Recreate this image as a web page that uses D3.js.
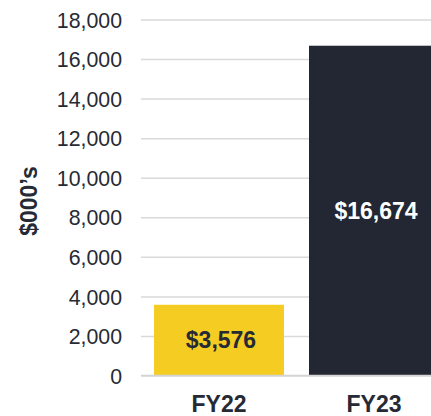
<!DOCTYPE html>
<html>
<head>
<meta charset="utf-8">
<script src="https://cdn.jsdelivr.net/npm/d3@7"></script>
<style>
  html, body { margin: 0; padding: 0; background: #fff; overflow: hidden; }
  svg { display: block; }
  text { font-family: "Liberation Sans", Arial, Helvetica, sans-serif; }
</style>
</head>
<body>
<svg id="chart" width="431" height="416"></svg>
<script>
// Revenue by fiscal year, in thousands of dollars
const categories = ["FY22", "FY23"];
const values = [3576, 16674];
const barLabels = ["$3,576", "$16,674"];
const tickValues = [0, 2000, 4000, 6000, 8000, 10000, 12000, 14000, 16000, 18000];
const barColors = ["#F5CD22", "#232733"];
const labelColors = ["#262a35", "#ffffff"];
const yTitle = "$000\u2019s";

const svg = d3.select("#chart");
const textColor = "#262a35";

const y = d3.scaleLinear().domain([0, 18000]).range([375.5, 19.5]);
const x = d3.scaleBand()
  .domain(categories)
  .range([141, 452])
  .paddingInner(25 / 155)
  .paddingOuter(13 / 155);

// Gridlines with tick labels
const yAxis = d3.axisLeft(y)
  .tickValues(tickValues)
  .tickSize(-(452 - 141))
  .tickPadding(19)
  .tickFormat(d3.format(","));

const gy = svg.append("g")
  .attr("transform", "translate(141,0)")
  .call(yAxis);
gy.select(".domain").remove();
gy.selectAll(".tick line").attr("stroke", "#d9d9d9").attr("stroke-width", 1.5);
gy.selectAll(".tick text")
  .attr("fill", textColor)
  .attr("font-size", 21.3)
  .attr("dy", "0.36em");

// Bars
svg.append("g").selectAll("rect")
  .data(values)
  .join("rect")
  .attr("x", (d, i) => x(categories[i]))
  .attr("y", d => y(d))
  .attr("width", x.bandwidth())
  .attr("height", d => y(0) - y(d))
  .attr("fill", (d, i) => barColors[i]);

// Value labels centred in each bar
svg.append("g").selectAll("text")
  .data(values)
  .join("text")
  .attr("x", (d, i) => x(categories[i]) + x.bandwidth() / 2)
  .attr("y", d => (y(d) + y(0)) / 2)
  .attr("dx", 2)
  .attr("dy", "0.36em")
  .attr("text-anchor", "middle")
  .attr("font-size", 23)
  .attr("font-weight", "bold")
  .attr("fill", (d, i) => labelColors[i])
  .text((d, i) => barLabels[i]);

// Zero baseline
svg.append("line")
  .attr("x1", 141).attr("x2", 452)
  .attr("y1", y(0)).attr("y2", y(0))
  .attr("stroke", "#d4d4d4").attr("stroke-width", 1.5);

// Category labels
const xAxis = d3.axisBottom(x).tickSize(0).tickPadding(20);
const gx = svg.append("g")
  .attr("transform", `translate(0,${y(0)})`)
  .call(xAxis);
gx.select(".domain").remove();
gx.selectAll(".tick text")
  .attr("fill", textColor)
  .attr("font-size", 23)
  .attr("font-weight", "bold");

// Y axis title
svg.append("text")
  .attr("transform", "translate(29,201) rotate(-90)")
  .attr("dy", "0.36em")
  .attr("text-anchor", "middle")
  .attr("font-size", 23)
  .attr("font-weight", "bold")
  .attr("fill", textColor)
  .text(yTitle);
</script>
</body>
</html>
